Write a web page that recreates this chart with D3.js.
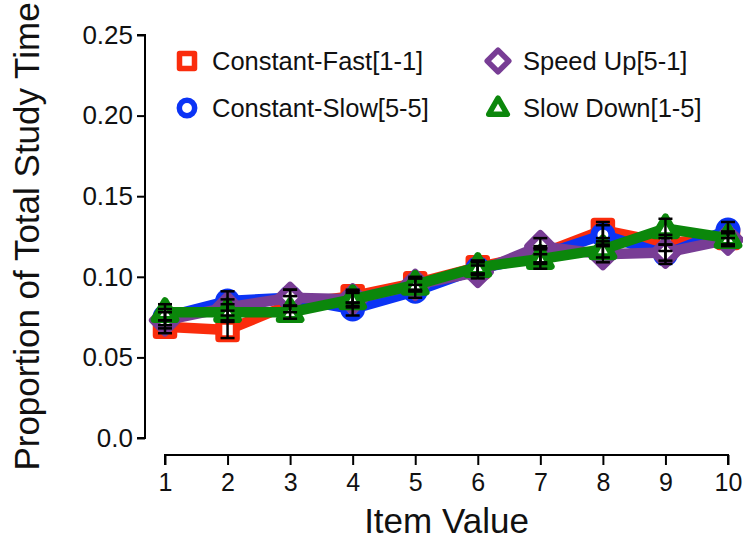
<!DOCTYPE html>
<html>
<head>
<meta charset="utf-8">
<script src="https://cdn.jsdelivr.net/npm/d3@7/dist/d3.min.js"></script>
<style>
  html, body { margin: 0; padding: 0; background: #fff; }
  svg { display: block; font-family: "Liberation Sans", Arial, sans-serif; }
</style>
</head>
<body>
<svg id="chart" width="743" height="539"></svg>
<script>
// Item values on the x axis
const itemValues = [1, 2, 3, 4, 5, 6, 7, 8, 9, 10];

// Mean proportion of total study time per condition
const constantFast = [0.069, 0.067, 0.083, 0.088, 0.096, 0.106, 0.114, 0.129, 0.121, 0.124];
const constantSlow = [0.075, 0.085, 0.087, 0.080, 0.091, 0.105, 0.113, 0.126, 0.114, 0.129];
const speedUp      = [0.073, 0.081, 0.087, 0.086, 0.095, 0.103, 0.119, 0.114, 0.115, 0.123];
const slowDown     = [0.078, 0.078, 0.078, 0.086, 0.095, 0.106, 0.111, 0.117, 0.130, 0.124];

// Standard errors
const constantFastSE = [0.004, 0.005, 0.005, 0.004, 0.004, 0.004, 0.005, 0.005, 0.005, 0.004];
const constantSlowSE = [0.005, 0.006, 0.005, 0.004, 0.004, 0.004, 0.005, 0.006, 0.006, 0.005];
const speedUpSE      = [0.005, 0.005, 0.005, 0.004, 0.004, 0.004, 0.005, 0.005, 0.005, 0.004];
const slowDownSE     = [0.005, 0.005, 0.004, 0.005, 0.004, 0.004, 0.006, 0.005, 0.006, 0.004];

const seriesNames = ["Constant-Fast[1-1]", "Constant-Slow[5-5]", "Speed Up[5-1]", "Slow Down[1-5]"];
const seriesColors = ["#fa2c0c", "#0b33f5", "#783d95", "#0b870b"];
const seriesShapes = ["square", "circle", "diamond", "triangle"];

// Y axis ticks
const yTicks = [0, 0.05, 0.10, 0.15, 0.20, 0.25];
const yTickLabels = ["0.0", "0.05", "0.10", "0.15", "0.20", "0.25"];

const series = [
  { name: seriesNames[0], color: seriesColors[0], shape: seriesShapes[0], values: constantFast, se: constantFastSE },
  { name: seriesNames[1], color: seriesColors[1], shape: seriesShapes[1], values: constantSlow, se: constantSlowSE },
  { name: seriesNames[2], color: seriesColors[2], shape: seriesShapes[2], values: speedUp,      se: speedUpSE },
  { name: seriesNames[3], color: seriesColors[3], shape: seriesShapes[3], values: slowDown,     se: slowDownSE }
];

const svg = d3.select("#chart");

const x = d3.scaleLinear().domain([1, 10]).range([165, 728]);
const y = d3.scaleLinear().domain([0, 0.25]).range([438, 35]);

// Marker path generator: hollow shapes centred on 0,0
function markerPath(shape, s) {
  if (shape === "square") {
    return d3.symbol().type(d3.symbolSquare).size(s * s)();
  }
  if (shape === "circle") {
    return d3.symbol().type(d3.symbolCircle).size(Math.PI * (s / 2) * (s / 2) * 1.05)();
  }
  if (shape === "diamond") {
    const h = s * 0.72;
    return `M0,${-h}L${h},0L0,${h}L${-h},0Z`;
  }
  // triangle pointing up
  const hw = s * 0.62, top = -s * 0.66, bot = s * 0.42;
  return `M0,${top}L${hw},${bot}L${-hw},${bot}Z`;
}

// Axes
const yAxis = d3.axisLeft(y).tickValues(yTicks).tickFormat((d, i) => yTickLabels[i]).tickSize(8).tickPadding(4);
const gy = svg.append("g").attr("transform", "translate(145,0)").call(yAxis);
gy.select(".domain").attr("stroke", "#000").attr("stroke-width", 2).attr("d", `M-8,${y(0.25)}H0V${y(0)}H-8`);
gy.selectAll(".tick line").attr("stroke", "#000").attr("stroke-width", 2);
gy.selectAll(".tick text").attr("font-size", 26).attr("fill", "#111").attr("font-family", "Liberation Sans, Arial, sans-serif");

const xAxis = d3.axisBottom(x).tickValues(itemValues).tickFormat(d3.format("d")).tickSize(10).tickPadding(8);
const gx = svg.append("g").attr("transform", "translate(0,455)").call(xAxis);
gx.select(".domain").attr("stroke", "#000").attr("stroke-width", 2).attr("d", `M${x(1)},10V0H${x(10)}V10`);
gx.selectAll(".tick line").attr("stroke", "#000").attr("stroke-width", 2);
gx.selectAll(".tick text").attr("font-size", 25).attr("fill", "#111").attr("font-family", "Liberation Sans, Arial, sans-serif");

// Axis titles
svg.append("text")
  .attr("x", x(5.5)).attr("y", 533)
  .attr("text-anchor", "middle")
  .attr("font-size", 35).attr("fill", "#111")
  .text("Item Value");

svg.append("text")
  .attr("transform", `translate(39,${(y(0) + y(0.25)) / 2}) rotate(-90)`)
  .attr("text-anchor", "middle")
  .attr("font-size", 35).attr("fill", "#111")
  .text("Proportion of Total Study Time");

// Lines and markers, one series at a time
const line = d3.line().x((d, i) => x(itemValues[i])).y(d => y(d));
const plot = svg.append("g");

series.forEach(s => {
  const g = plot.append("g");
  g.append("path")
    .datum(s.values)
    .attr("d", line)
    .attr("fill", "none")
    .attr("stroke", s.color)
    .attr("stroke-width", 10.5)
    .attr("stroke-linejoin", "round");
  g.selectAll("path.marker")
    .data(s.values)
    .join("path")
    .attr("class", "marker")
    .attr("transform", (d, i) => `translate(${x(itemValues[i])},${y(d)})`)
    .attr("d", markerPath(s.shape, 17.5))
    .attr("fill", "#fff")
    .attr("stroke", s.color)
    .attr("stroke-width", 7)
    .attr("stroke-linejoin", "round");
});

// Error bars on top
const capHalf = 7;
series.forEach(s => {
  const g = plot.append("g").attr("stroke", "#000").attr("stroke-width", 2.5);
  s.values.forEach((v, i) => {
    const cx = x(itemValues[i]);
    const y0 = y(v - s.se[i]), y1 = y(v + s.se[i]);
    g.append("line").attr("x1", cx).attr("x2", cx).attr("y1", y0).attr("y2", y1);
    g.append("line").attr("x1", cx - capHalf).attr("x2", cx + capHalf).attr("y1", y0).attr("y2", y0);
    g.append("line").attr("x1", cx - capHalf).attr("x2", cx + capHalf).attr("y1", y1).attr("y2", y1);
  });
});

// Legend
const legendPos = [[187, 61], [187, 108], [498, 61], [498, 108]];
const legend = svg.append("g");
series.forEach((s, i) => {
  const [lx, ly] = legendPos[i];
  legend.append("path")
    .attr("transform", `translate(${lx},${ly})`)
    .attr("d", markerPath(s.shape, 15))
    .attr("fill", "#fff")
    .attr("stroke", s.color)
    .attr("stroke-width", 5.5)
    .attr("stroke-linejoin", "round");
  legend.append("text")
    .attr("x", lx + 25).attr("y", ly + 9)
    .attr("font-size", 25.5).attr("fill", "#111")
    .text(s.name);
});
</script>
</body>
</html>
